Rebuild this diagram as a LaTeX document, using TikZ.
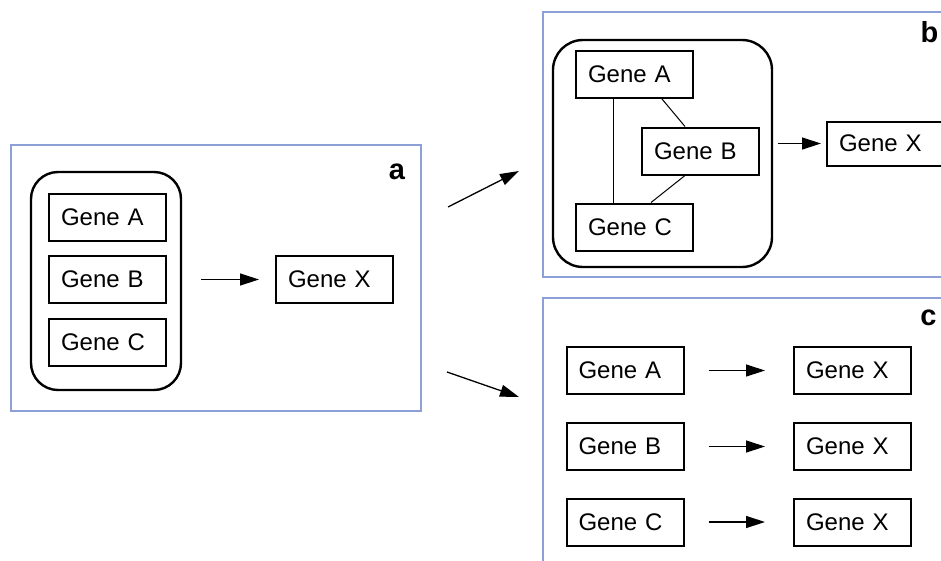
\documentclass[tikz,border=0pt]{standalone}
\usepackage{fontspec}
\setmainfont{Liberation Sans}
\usetikzlibrary{arrows.meta}
\definecolor{panelblue}{RGB}{140,160,215}
\tikzset{
  genebox/.style={draw, line width=2pt, minimum height=47pt, text width=93pt,
    align=left, inner xsep=12pt, inner ysep=0pt,
    font=\fontsize{24}{28}\selectfont},
  group/.style={draw, line width=2.4pt, rounded corners=27pt},
  panel/.style={draw=panelblue, line width=1.5pt},
  tag/.style={font=\bfseries\fontsize{29}{34}\selectfont, anchor=base, inner sep=0pt},
  arr/.style={-{Triangle[length=19pt,width=12pt]}, line width=1.3pt},
  link/.style={line width=1pt},
}
\begin{document}
\begin{tikzpicture}[x=1pt, y=-1pt]
\useasboundingbox (0,0) rectangle (941,560);
\clip (0,0) rectangle (941,560);

% ---- panel a: grouped genes acting together ----
\node[panel, minimum width=410pt, minimum height=266pt] (pa) at (216,278) {};
\node[tag] (la) at (397,179) {a};
\node[group, minimum width=150pt, minimum height=218pt] (ca) at (106,281) {};
\node[genebox] (aA) at (107.5,217.5) {Gene A};
\node[genebox] (aB) at (107.5,279.5) {Gene B};
\node[genebox] (aC) at (107.5,342) {Gene C};
\node[genebox] (aX) at (334.5,279.5) {Gene X};
\draw[arr, shorten <=19pt, shorten >=16pt] (ca.east |- aX.west) -- (aX.west);

% ---- panel b: interacting genes ----
\node[panel, minimum width=417pt, minimum height=265pt] (pb) at (751.5,144.5) {};
\node[tag] (lb) at (929.5,42) {b};
\node[group, minimum width=219pt, minimum height=227pt, rounded corners=30pt] (cb) at (662.5,153.5) {};
\node[genebox] (bA) at (634.5,74.5) {Gene A};
\node[genebox] (bB) at (700.5,151) {Gene B};
\node[genebox] (bC) at (634.5,227) {Gene C};
\node[genebox, minimum height=44pt] (bX) at (885.5,143.5) {Gene X};
\draw[link] ([xshift=38pt]bA.south west) -- ([xshift=38pt]bC.north west);
\draw[link] ([xshift=87pt]bA.south west) -- ([xshift=44pt]bB.north west);
\draw[link] ([xshift=44pt]bB.south west) -- ([xshift=76pt]bC.north west);
\draw[arr, shorten <=5pt, shorten >=5pt] (cb.east |- bX.west) -- (bX.west);

% ---- panel c: independent genes ----
\node[panel, minimum width=417pt, minimum height=282pt] (pc) at (751.5,439) {};
\node[tag] (lc) at (928.5,325) {c};
\node[genebox] (cA) at (625,370.5) {Gene A};
\node[genebox] (cB) at (625,446.5) {Gene B};
\node[genebox] (cC) at (625,522) {Gene C};
\node[genebox] (cXA) at (852.5,370.5) {Gene X};
\node[genebox] (cXB) at (852.5,446.5) {Gene X};
\node[genebox] (cXC) at (852.5,522) {Gene X};
\draw[arr, shorten <=24pt, shorten >=28pt] (cA.east) -- (cXA.west);
\draw[arr, shorten <=24pt, shorten >=28pt] (cB.east) -- (cXB.west);
\draw[arr, shorten <=24pt, shorten >=28pt] (cC.east) -- (cXC.west);

% ---- links between panels ----
\coordinate (fromA1) at (448,207);
\coordinate (toB) at (519,171);
\coordinate (fromA2) at (447,372);
\coordinate (toC) at (519,397);
\draw[arr] (fromA1) -- (toB);
\draw[arr] (fromA2) -- (toC);
\end{tikzpicture}
\end{document}
